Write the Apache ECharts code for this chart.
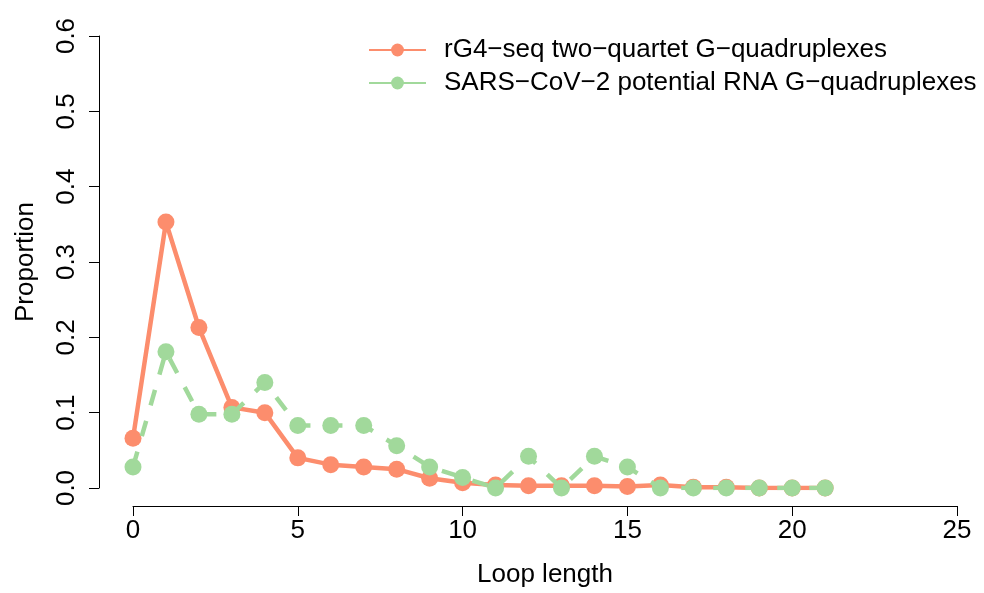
<!DOCTYPE html>
<html>
<head>
<meta charset="utf-8">
<script src="https://cdn.jsdelivr.net/npm/echarts@6/dist/echarts.min.js"></script>
<style>html,body{margin:0;padding:0;background:#fff;}#c{width:984px;height:593px;}</style>
</head>
<body>
<div id="c"></div>
<script>
const loopLength = [0,1,2,3,4,5,6,7,8,9,10,11,12,13,14,15,16,17,18,19,20,21];
const rg4Values = [0.066,0.353,0.213,0.107,0.100,0.040,0.031,0.028,0.025,0.013,0.007,0.004,0.003,0.003,0.003,0.002,0.004,0.001,0.001,0.000,0.000,0.000];
const sarsValues = [0.028,0.181,0.098,0.098,0.140,0.083,0.083,0.083,0.056,0.028,0.014,0.000,0.042,0.000,0.042,0.028,0.000,0.000,0.000,0.000,0.000,0.000];
const seriesNames = ['rG4\u2212seq two\u2212quartet G\u2212quadruplexes','SARS\u2212CoV\u22122 potential RNA G\u2212quadruplexes'];
const xTitle = 'Loop length';
const yTitle = 'Proportion';

const FONT = '"Liberation Sans", Arial, Helvetica, sans-serif';
const FS = 26;
const RED = '#FC8D6D';
const GREEN = '#A1D99B';
const pair = (xs, ys) => xs.map((x, i) => [x, ys[i]]);

const chart = echarts.init(document.getElementById('c'), null, {renderer: 'canvas'});
chart.setOption({
  animation: false,
  backgroundColor: '#fff',
  textStyle: {fontFamily: FONT},
  grid: {left: 133, right: 27, top: 36, bottom: 104, containLabel: false},
  legend: {
    orient: 'vertical',
    left: 363,
    top: 32,
    itemWidth: 57,
    itemHeight: 16,
    itemGap: 7,
    textStyle: {fontFamily: FONT, fontSize: FS, color: '#000', padding: [0,0,0,13]},
    data: [
      {name: seriesNames[0], itemStyle: {color: RED}, lineStyle: {color: RED, width: 2, type: 'solid'}},
      {name: seriesNames[1], itemStyle: {color: GREEN}, lineStyle: {color: GREEN, width: 2, type: 'solid'}}
    ]
  },
  xAxis: {
    type: 'value', min: 0, max: 25, interval: 5,
    offset: 18,
    axisLine: {show: true, onZero: false, lineStyle: {color: '#000', width: 1}},
    axisTick: {show: true, length: 10, lineStyle: {color: '#000', width: 1}},
    axisLabel: {fontFamily: FONT, fontSize: FS, color: '#000', margin: 12, showMaxLabel: true, showMinLabel: true},
    splitLine: {show: false},
    name: xTitle, nameLocation: 'middle', nameGap: 56,
    nameTextStyle: {fontFamily: FONT, fontSize: FS, color: '#000'}
  },
  yAxis: {
    type: 'value', min: 0, max: 0.6, interval: 0.1,
    offset: 34,
    axisLine: {show: true, onZero: false, lineStyle: {color: '#000', width: 1}},
    axisTick: {show: true, length: 10, lineStyle: {color: '#000', width: 1}},
    axisLabel: {fontFamily: FONT, fontSize: FS, color: '#000', margin: 19, rotate: 90,
      formatter: v => v.toFixed(1), showMaxLabel: true, showMinLabel: true},
    splitLine: {show: false},
    name: yTitle, nameLocation: 'middle', nameGap: 60,
    nameTextStyle: {fontFamily: FONT, fontSize: FS, color: '#000'}
  },
  series: [
    {
      name: seriesNames[0], type: 'line', data: pair(loopLength, rg4Values),
      symbol: 'circle', symbolSize: 17,
      itemStyle: {color: RED}, lineStyle: {color: RED, width: 4.5},
      z: 2
    },
    {
      name: seriesNames[1], type: 'line', data: pair(loopLength, sarsValues),
      symbol: 'circle', symbolSize: 17,
      itemStyle: {color: GREEN}, lineStyle: {color: GREEN, width: 4.5, type: [16, 16]},
      z: 3
    }
  ]
});
</script>
</body>
</html>
